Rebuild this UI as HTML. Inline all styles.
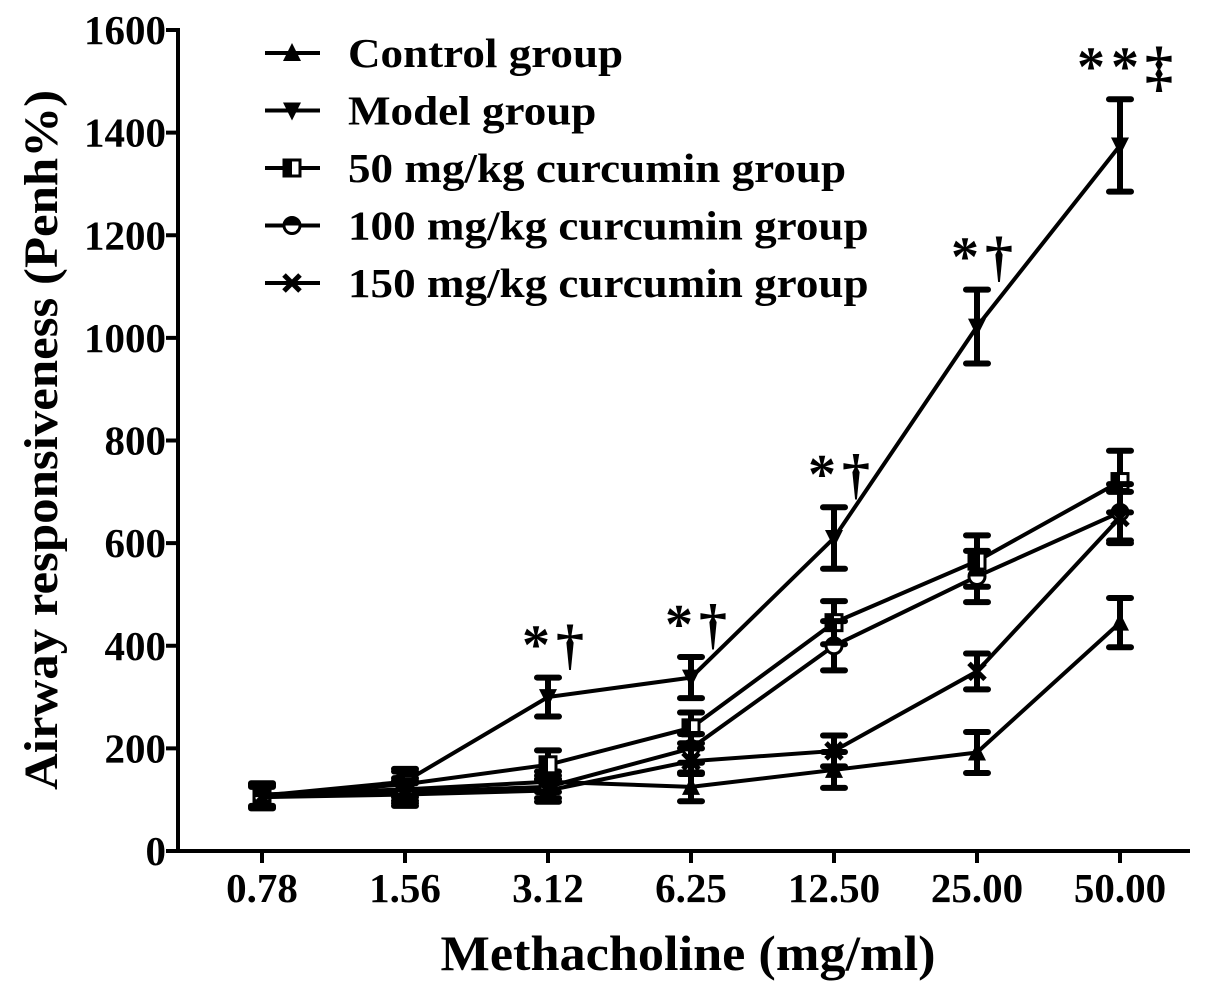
<!DOCTYPE html>
<html><head><meta charset="utf-8"><style>
body{margin:0;background:#fff}
svg{display:block;font-family:"Liberation Serif",serif;font-weight:bold}
</style></head><body>
<svg id="chart" width="1205" height="993" viewBox="0 0 1205 993" xmlns="http://www.w3.org/2000/svg">
<g id="axes"></g>
<g id="series"></g>
<g id="legend"></g>
<g id="annot"></g>
<text transform="translate(57,440) rotate(-90)" text-anchor="middle" font-size="48" textLength="700" lengthAdjust="spacingAndGlyphs">Airway  responsiveness (Penh%)</text>
<text x="688" y="970" text-anchor="middle" font-size="50" textLength="495" lengthAdjust="spacingAndGlyphs">Methacholine (mg/ml)</text>
</svg>
<script>
const categories=["0.78","1.56","3.12","6.25","12.50","25.00","50.00"];
const yTicks=[0,200,400,600,800,1000,1200,1400,1600];
const seriesNames=["Control group","Model group","50 mg/kg curcumin group","100 mg/kg curcumin group","150 mg/kg curcumin group"];
const seriesMarkers=["up","down","square","circle","x"];
const controlVals=[110,120,135,125,158,192,445];
const controlErr=[22,22,20,28,35,40,48];
const modelVals=[108,135,300,338,610,1022,1375];
const modelErr=[22,25,38,40,60,72,90];
const c50Vals=[108,130,168,240,445,565,720];
const c50Err=[22,25,28,30,42,50,60];
const c100Vals=[105,115,125,200,400,535,660];
const c100Err=[22,22,22,28,48,50,55];
const c150Vals=[105,110,118,175,195,350,650];
const c150Err=[20,22,22,25,30,35,50];
const annotations=["","","*†","*†","*†","*†","**‡"];
const allVals=[controlVals,modelVals,c50Vals,c100Vals,c150Vals];
const allErr=[controlErr,modelErr,c50Err,c100Err,c150Err];

const NS="http://www.w3.org/2000/svg";
function mk(tag,attrs,parent){const e=document.createElementNS(NS,tag);for(const k in attrs)e.setAttribute(k,attrs[k]);parent.appendChild(e);return e;}
const X0=178,X1=1190,Y0=851,YTOP=30;
const xs=i=>262+i*143;
const ys=v=>Y0-(v/1600)*(Y0-YTOP);
const axes=document.getElementById('axes');
let a=mk('line',{x1:X0,y1:YTOP-2,x2:X0,y2:Y0+2,stroke:'#000','stroke-width':4},axes);

a=mk('line',{x1:X0-2,y1:Y0,x2:X1,y2:Y0,stroke:'#000','stroke-width':4},axes);

yTicks.forEach(t=>{
 const l=mk('line',{x1:X0-12,x2:X0,y1:ys(t),y2:ys(t),stroke:'#000','stroke-width':4},axes);
 
 const tx=mk('text',{x:X0-12,y:ys(t)+14,'text-anchor':'end','font-size':41},axes);
 
 tx.textContent=t;
});
categories.forEach((c,i)=>{
 const l=mk('line',{x1:xs(i),x2:xs(i),y1:Y0,y2:Y0+12,stroke:'#000','stroke-width':4},axes);
 
 const tx=mk('text',{x:xs(i),y:902,'text-anchor':'middle','font-size':41},axes);
 
 tx.textContent=c;
});
function marker(type,x,y,p){
 let e;
 if(type==='up')e=mk('polygon',{points:`${x-9},${y+8} ${x+9},${y+8} ${x},${y-10}`,fill:'#000'},p);
 else if(type==='down')e=mk('polygon',{points:`${x-9},${y-8} ${x+9},${y-8} ${x},${y+10}`,fill:'#000'},p);
 else if(type==='square'){e=mk('g',{},p);mk('rect',{x:x-8,y:y-8,width:16,height:16,fill:'#fff',stroke:'#000','stroke-width':3},e);mk('rect',{x:x-8,y:y-8,width:8,height:16,fill:'#000'},e);}
 else if(type==='circle'){e=mk('g',{},p);mk('circle',{cx:x,cy:y,r:8,fill:'#fff',stroke:'#000','stroke-width':3},e);mk('path',{d:`M${x-8},${y} A8,8 0 0 1 ${x+8},${y} Z`,fill:'#000'},e);}
 else {e=mk('path',{d:`M${x-8},${y-8}L${x+8},${y+8}M${x+8},${y-8}L${x-8},${y+8}`,stroke:'#000','stroke-width':5},p);}
 return e;
}
const sg=document.getElementById('series');
allVals.forEach((vals,s)=>{
 const g=mk('g',{},sg);
 
 const pl=mk('polyline',{points:vals.map((v,i)=>xs(i)+','+ys(v)).join(' '),fill:'none',stroke:'#000','stroke-width':4},g);
 
 vals.forEach((v,i)=>{
  const e=allErr[s][i],x=xs(i);
  const eb=mk('path',{d:`M${x},${ys(v+e)}V${ys(v-e)}M${x-11},${ys(v+e)}H${x+11}M${x-11},${ys(v-e)}H${x+11}`,stroke:'#000','stroke-width':6,'stroke-linecap':'round',fill:'none'},g);
  
  const m=marker(seriesMarkers[s],x,ys(v),g);
  
 });
});
const lg=document.getElementById('legend');
seriesNames.forEach((n,s)=>{
 const y=53+s*57.5;
 const g=mk('g',{},lg);
 
 mk('line',{x1:265,x2:320,y1:y,y2:y,stroke:'#000','stroke-width':4},g);
 marker(seriesMarkers[s],292,y,g);
 const t=mk('text',{x:348,y:y+14,'font-size':41,transform:`translate(348,0) scale(1.1,1) translate(-348,0)`},g);t.textContent=n;
});
const an=document.getElementById('annot');
annotations.forEach((a,i)=>{
 if(!a)return;
 const top=ys(modelVals[i]+modelErr[i]);
 const t=mk('text',{x:xs(i)+8,y:top-14,'text-anchor':'middle','font-size':56,'letter-spacing':6},an);
 
 t.textContent=a;
});
</script>
</body></html>
